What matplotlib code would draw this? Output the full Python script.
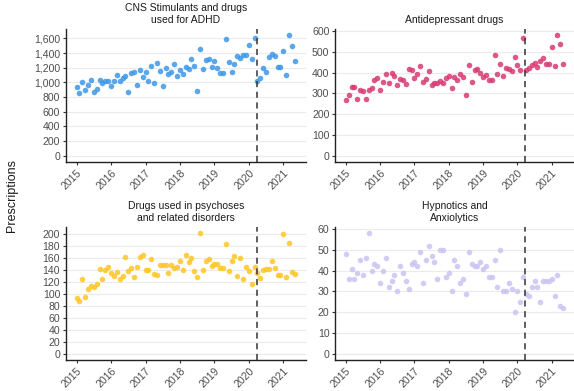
import numpy as np
import matplotlib
matplotlib.use("Agg")
from matplotlib import pyplot as plt
from matplotlib.ticker import FuncFormatter, MultipleLocator

plt.rcParams['font.family'] = ['Liberation Sans', 'DejaVu Sans']

# monthly counts, Jan 2015 - May 2021
adhd = [943, 861, 1006, 893, 966, 1034, 870, 907, 1034, 988, 1020, 1024,
        947, 1024, 1101, 1024, 1056, 1088, 866, 1124, 1138, 966, 1170, 1070,
        1138, 1024, 1229, 997, 1269, 1152, 952, 1192, 1115, 1138, 1247, 1084,
        1165, 1111, 1206, 1179, 1315, 1224, 879, 1460, 1179, 1310, 1324, 1215,
        1288, 1201, 1124, 1124, 1596, 1278, 1142, 1251, 1360, 1337, 1378, 1378,
        1510, 1324, 1600, 1020, 1065, 1201, 1138, 1351, 1392, 1360, 1206, 1206,
        1432, 1101, 1646, 1496, 1291]
antidep = [269, 293, 330, 331, 274, 315, 310, 274, 317, 326, 365, 373,
           318, 357, 394, 350, 397, 382, 341, 371, 365, 346, 419, 414,
           374, 395, 434, 357, 371, 406, 339, 349, 352, 360, 350, 374,
           382, 326, 378, 365, 395, 381, 291, 437, 354, 414, 419, 397,
           381, 387, 366, 366, 485, 392, 443, 386, 424, 416, 410, 477,
           435, 414, 568, 411, 421, 438, 448, 426, 458, 469, 443, 443,
           522, 430, 581, 536, 442]
psych = [94, 88, 126, 96, 109, 114, 112, 117, 142, 125, 141, 146,
         135, 131, 137, 125, 130, 162, 139, 143, 128, 145, 162, 166,
         141, 141, 158, 134, 132, 148, 148, 148, 136, 149, 143, 146,
         155, 141, 166, 154, 161, 139, 129, 202, 140, 156, 158, 147,
         150, 150, 143, 143, 184, 139, 156, 163, 131, 161, 126, 145,
         139, 117, 146, 135, 127, 141, 142, 142, 155, 143, 132, 132,
         200, 128, 186, 137, 133]
hypno = [48, 36, 41, 36, 39, 45, 38, 46, 58, 40, 43, 42,
         34, 40, 46, 32, 35, 38, 30, 42, 39, 35, 31, 43,
         44, 42, 49, 34, 45, 52, 47, 44, 36, 50, 50, 37,
         39, 30, 45, 42, 34, 36, 29, 49, 43, 42, 42, 44,
         41, 42, 37, 37, 45, 32, 50, 30, 30, 34, 31, 20,
         30, 25, 37, 29, 28, 32, 35, 32, 25, 35, 35, 35,
         36, 28, 38, 23, 22]

titles = ["CNS Stimulants and drugs\nused for ADHD", "Antidepressant drugs",
          "Drugs used in psychoses\nand related disorders", "Hypnotics and\nAnxiolytics"]
colors = ["#3d98e8", "#d83a72", "#ffc623", "#cbc4f3"]
ysteps = [200, 100, 20, 10]
year_ticks = [2015, 2016, 2017, 2018, 2019, 2020, 2021]
lockdown = 2020.23

months = 2015 + np.arange(len(adhd)) / 12

fig = plt.figure(figsize=(5.74, 3.91), dpi=100)
boxes = [[0.1145, 0.586, 0.418, 0.340], [0.5836, 0.586, 0.4164, 0.340],
         [0.1145, 0.0793, 0.418, 0.340], [0.5836, 0.0793, 0.4164, 0.340]]

for box, data, title, col, step in zip(boxes, [adhd, antidep, psych, hypno], titles, colors, ysteps):
    ax = fig.add_axes(box)
    data = np.array(data)
    ax.scatter(months, data, s=16, color=col, alpha=0.85, linewidths=0, zorder=3)
    ax.axvline(lockdown, color="#333333", ls=(0, (4, 3)), lw=1.1, zorder=4)
    top = data.max()
    pad = 0.05 * top
    ax.set_ylim(-pad, top + pad)
    xr = months[-1] - months[0]
    ax.set_xlim(months[0] - 0.05 * xr, months[-1] + 0.05 * xr)
    ax.yaxis.set_major_locator(MultipleLocator(step))
    ax.yaxis.set_major_formatter(FuncFormatter(lambda v, p: f"{int(v):,}"))
    ax.set_xticks(year_ticks)
    ax.set_xticklabels([str(y) for y in year_ticks], rotation=45, ha="right", va="top",
                       rotation_mode="anchor")
    ax.grid(axis="y", color="#ebebeb", lw=0.8, zorder=0)
    ax.set_axisbelow(True)
    for s in ["top", "right"]:
        ax.spines[s].set_visible(False)
    for s in ["left", "bottom"]:
        ax.spines[s].set_color("#222222")
        ax.spines[s].set_linewidth(1.0)
    ax.tick_params(labelsize=7.6, colors="#4d4d4d", length=2.5, width=0.8, pad=1.5)
    ax.tick_params(color="#333333")
    ax.set_title(title, fontsize=7.5, color="#1a1a1a", pad=4, linespacing=1.25)

fig.text(0.021, 0.5, "Prescriptions", rotation=90, va="center", ha="center",
         fontsize=9, color="#1a1a1a")

fig.savefig("out.png", dpi=100)
